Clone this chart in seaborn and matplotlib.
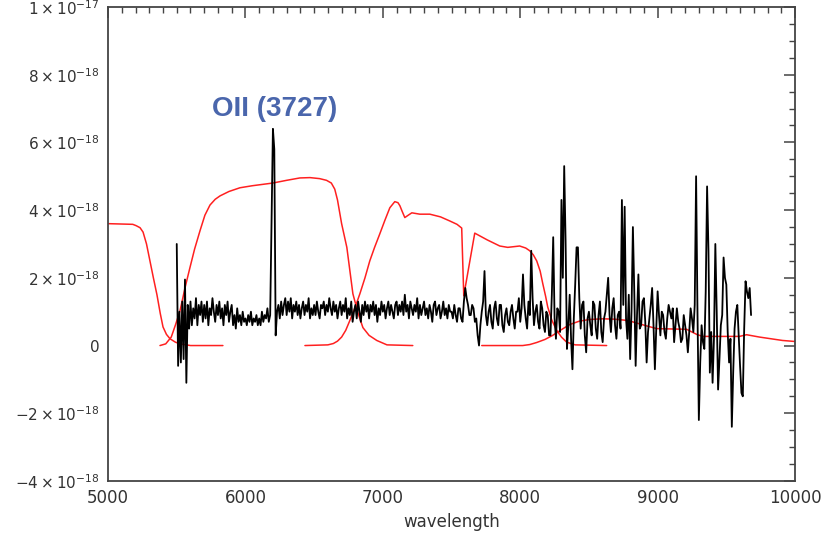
import matplotlib
matplotlib.use("Agg")
import matplotlib.pyplot as plt
import matplotlib.ticker as mtick
import numpy as np
import pandas as pd
import seaborn as sns

UNIT = 1e-18  # all flux values below are in units of 1e-18

# spectrum, every 10 A from 5500 A (one row = 200 A)
spec_start, spec_step = 5500, 10
spec_flux = [
    3.0, -0.6, 1.0, -0.5, 1.3, -0.4, 1.95, -1.1, 1.2, 0.5, 1.3, 0.6, 1.1, 0.8, 1.4, 0.6, 1.2, 0.9, 1.3, 0.7,
    1.2, 0.8, 1.3, 0.6, 1.1, 0.9, 1.4, 1.0, 0.7, 1.2, 0.9, 1.3, 0.8, 1.1, 0.6, 1.2, 0.9, 1.3, 0.7, 1.0,
    1.2, 0.6, 0.9, 0.5, 1.1, 0.7, 0.9, 0.6, 1.0, 0.7, 0.8, 0.6, 0.9, 0.7, 1.0, 0.6, 0.8, 0.7, 0.9, 0.6,
    0.8, 0.6, 1.0, 0.7, 0.9, 0.8, 1.1, 0.7, 0.9, 3.6, 6.4, 5.8, 0.3, 1.0, 1.2, 0.8, 1.3, 0.9, 1.2, 1.4,
    0.9, 1.3, 1.0, 1.4, 0.8, 1.2, 1.0, 1.3, 0.9, 1.2, 0.8, 1.1, 1.3, 0.9, 1.2, 1.0, 1.4, 0.8, 1.1, 0.9,
    1.2, 0.9, 1.3, 1.0, 0.8, 1.2, 1.1, 1.3, 0.9, 1.2, 1.0, 1.4, 1.1, 0.9, 1.3, 1.0, 1.2, 0.8, 1.1, 1.3,
    0.9, 1.2, 1.0, 1.4, 0.8, 1.1, 0.9, 1.3, 0.7, 1.0, 1.2, 0.8, 1.3, 1.0, 0.7, 1.2, 0.9, 1.3, 1.0, 1.2,
    0.8, 1.2, 1.0, 1.3, 0.9, 1.2, 0.7, 1.1, 0.9, 1.3, 1.0, 1.2, 0.8, 1.1, 1.3, 0.9, 1.2, 1.0, 0.8, 1.2,
    1.3, 0.9, 1.2, 1.0, 1.3, 0.9, 1.5, 1.0, 1.2, 0.8, 1.3, 1.1, 0.9, 1.2, 1.0, 1.4, 0.8, 1.2, 0.9, 1.1,
    1.3, 0.9, 1.1, 0.8, 1.2, 1.0, 0.7, 1.2, 1.3, 0.9, 1.1, 1.2, 0.8, 1.0, 1.3, 0.9, 1.1, 0.8, 1.2, 1.0,
    1.0, 0.8, 1.2, 0.9, 0.7, 1.1, 1.1, 0.8, 0.7, 1.3, 1.7, 1.4, 1.2, 0.9, 0.9, 1.2, 1.1, 0.7, 0.8, 0.3,
    0.0, 0.6, 1.0, 1.3, 2.2, 0.9, 0.6, 1.0, 1.2, 0.7, 0.5, 1.1, 1.3, 0.8, 0.6, 1.2, 1.2, 0.6, 0.4, 0.9,
    1.1, 0.7, 0.6, 1.0, 1.2, 0.8, 0.5, 1.0, 1.0, 1.4, 0.7, 1.1, 2.1, 1.2, 0.8, 0.5, 1.3, 0.9, 2.8, 1.4,
    0.6, 1.0, 1.2, 0.7, 0.5, 1.3, 1.1, 0.6, 0.4, 1.0, 0.9, 0.3, 0.3, 1.5, 3.2, 0.8, 0.2, 1.1, 1.0, 0.4,
    4.3, 2.0, 5.3, 3.1, -0.1, 0.6, 1.5, 0.2, -0.7, 0.8, 1.8, 2.9, 2.9, 1.4, 0.5, 1.2, 1.3, 0.3, -0.2, 0.8,
    1.0, 0.6, 0.3, 1.3, 1.2, 0.5, 0.2, 0.9, 1.3, 0.4, 0.1, 0.8, 1.0, 1.5, 2.0, 0.9, 0.4, 1.1, 1.4, 0.6,
    0.2, 0.9, 1.0, 0.5, 4.3, 1.2, 4.1, 0.8, 0.2, 1.5, -0.4, 1.0, 3.5, 1.6, -0.6, 0.9, 2.1, 0.5, 0.6, 1.3,
    1.4, 0.7, -0.5, 0.4, 0.8, 1.2, 1.7, 0.6, -0.7, 0.5, 1.6, 0.9, 0.3, 1.0, 0.9, 0.4, 0.2, 0.8, 1.2, 1.0,
    0.8, 1.1, 0.1, 0.6, 1.1, 0.7, 0.5, 0.1, 0.2, 0.9, 0.6, 0.3, -0.2, 0.4, 1.1, 0.8, 0.4, 1.2, 5.0, 1.0,
    -2.2, -0.5, 0.6, 0.1, -0.1, 1.6, 4.7, 2.8, -0.8, 0.4, -1.1, 0.2, 3.0, 1.0, -1.3, -0.4, 0.6, 0.9, 2.6, 2.0,
    1.8, 0.4, -0.5, 0.2, -2.4, -0.8, 0.5, 1.0, 1.2, 0.3, -0.6, -1.4, -1.5, 0.5, 1.9, 1.6, 1.4, 1.7, 0.9,
]

# filter transmission curves (same plotting units)
f1_wave = [5000, 5180, 5205, 5233, 5255, 5280, 5305, 5330, 5356, 5380, 5400, 5425, 5451, 5490, 5524, 5600, 5836]
f1_val = [3.6, 3.58, 3.54, 3.48, 3.35, 3.0, 2.5, 2.0, 1.5, 0.95, 0.55, 0.33, 0.2, 0.1, 0.05, 0.0, 0.0]

f2_wave = [5378, 5420, 5460, 5490, 5524, 5560, 5596, 5630, 5670, 5705, 5742, 5780, 5815, 5880,
           5960, 6050, 6200, 6300, 6396, 6470, 6540, 6590, 6625, 6650, 6670, 6700, 6738,
           6782, 6820, 6855, 6900, 6956, 7030, 7218]
f2_val = [0.0, 0.05, 0.25, 0.6, 1.03, 1.7, 2.3, 2.85, 3.4, 3.85, 4.15, 4.32, 4.42, 4.55,
          4.66, 4.72, 4.8, 4.88, 4.95, 4.96, 4.93, 4.88, 4.8, 4.62, 4.3, 3.6, 2.9,
          1.53, 0.95, 0.53, 0.3, 0.15, 0.02, 0.0]

f3_wave = [6433, 6600, 6640, 6670, 6700, 6730, 6760, 6800, 6833, 6870, 6905, 6940, 6978, 7015, 7051,
           7087, 7110, 7124, 7142, 7160, 7185, 7211, 7240, 7269, 7342, 7420, 7487, 7540, 7574,
           7589, 7669, 7760, 7851, 7909, 7996, 8040, 8069, 8095, 8120, 8145, 8164, 8185, 8200,
           8230, 8265, 8300, 8338, 8400, 8629]
f3_val = [0.0, 0.02, 0.06, 0.13, 0.25, 0.45, 0.74, 1.15, 1.53, 2.0, 2.5, 2.9, 3.3, 3.7, 4.07,
          4.25, 4.22, 4.13, 3.95, 3.78, 3.85, 3.92, 3.9, 3.88, 3.88, 3.8, 3.68, 3.58, 3.47,
          1.47, 3.32, 3.12, 2.94, 2.9, 2.94, 2.88, 2.8, 2.68, 2.5, 2.2, 1.83, 1.45, 1.14,
          0.75, 0.45, 0.25, 0.1, 0.02, 0.0]

f4_wave = [7720, 8018, 8070, 8120, 8180, 8236, 8300, 8360, 8430, 8505, 8600, 8680, 8760, 8818, 8920,
           8993, 9100, 9211, 9250, 9284, 9327, 9450, 9596, 9647, 9742, 9909, 10000]
f4_val = [0.0, 0.0, 0.03, 0.09, 0.18, 0.3, 0.47, 0.62, 0.72, 0.77, 0.79, 0.78, 0.75, 0.7, 0.58,
          0.5, 0.49, 0.48, 0.4, 0.33, 0.27, 0.27, 0.27, 0.32, 0.25, 0.15, 0.12]

yticks = [-4, -2, 0, 2, 4, 6, 8, 10]
ytick_labels = [r"$-4\times10^{-18}$", r"$-2\times10^{-18}$", "0",
                r"$2\times10^{-18}$", r"$4\times10^{-18}$", r"$6\times10^{-18}$",
                r"$8\times10^{-18}$", r"$1\times10^{-17}$"]
xticks = [5000, 6000, 7000, 8000, 9000, 10000]

sns.set_style("white")
plt.rcParams["font.family"] = ["DejaVu Sans"]
plt.rcParams["mathtext.fontset"] = "dejavusans"

fig = plt.figure(figsize=(8.26, 5.4), dpi=100)
ax = fig.add_axes([0.1308, 0.1093, 0.8317, 0.8778])

axis_col = "#444444"
text_col = "#333333"

spec = pd.DataFrame({
    "wave": np.arange(len(spec_flux)) * spec_step + spec_start,
    "flux": np.array(spec_flux) * UNIT,
})

for w, v in [(f1_wave, f1_val), (f2_wave, f2_val), (f3_wave, f3_val), (f4_wave, f4_val)]:
    sns.lineplot(x=w, y=np.array(v) * UNIT, color="#ff2020", linewidth=1.1,
                 estimator=None, sort=False, ax=ax)

sns.lineplot(data=spec, x="wave", y="flux", color="black", linewidth=1.3,
             estimator=None, sort=False, ax=ax)

ax.text(6215, 7.0 * UNIT, "OII (3727)", color="#4a66ac", fontsize=20,
        fontweight="bold", family=["Liberation Sans", "DejaVu Sans"],
        ha="center", va="center")

ax.set_xlim(5000, 10000)
ax.set_ylim(-4 * UNIT, 10 * UNIT)
ax.set_xticks(xticks)
ax.set_yticks([t * UNIT for t in yticks])
ax.set_yticklabels(ytick_labels)
ax.xaxis.set_minor_locator(mtick.MultipleLocator(100))
ax.yaxis.set_minor_locator(mtick.MultipleLocator(0.5 * UNIT))

ax.tick_params(which="both", direction="in", top=True, right=True,
               colors=axis_col, labelcolor=text_col)
ax.tick_params(axis="x", labelsize=12)
ax.tick_params(axis="y", labelsize=11)
ax.tick_params(which="major", length=8, width=1.1, pad=6)
ax.tick_params(which="minor", length=4, width=1.0)
for s in ax.spines.values():
    s.set_color(axis_col)
    s.set_linewidth(1.3)

ax.set_xlabel("wavelength", fontsize=12, color=text_col, labelpad=4)
ax.set_ylabel("")

fig.savefig("out.png", dpi=100)
